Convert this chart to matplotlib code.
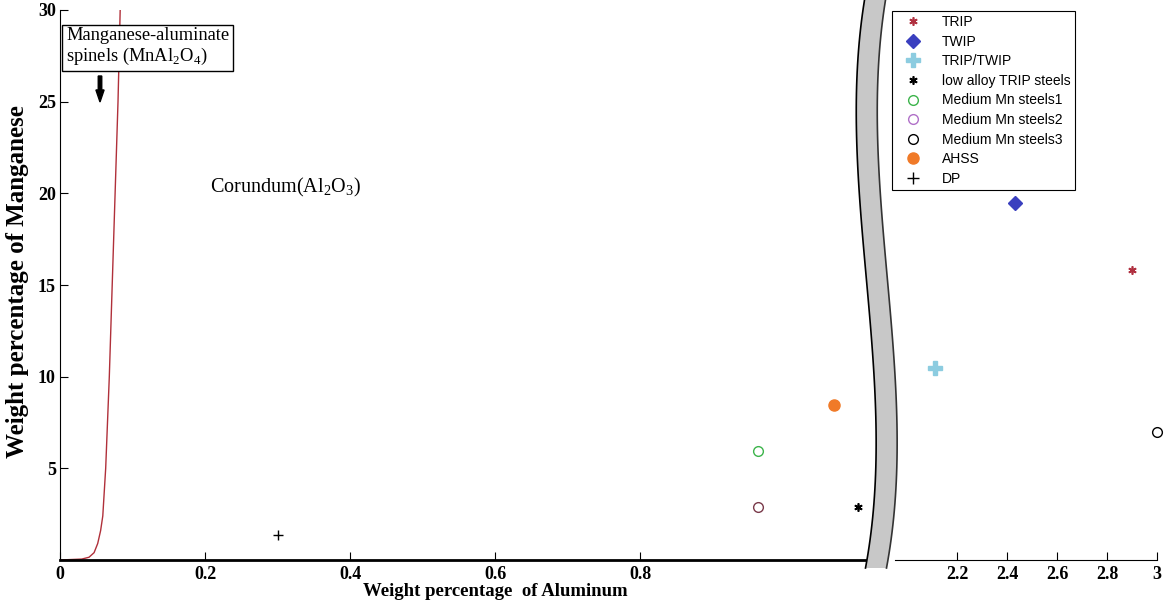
import numpy as np
import matplotlib
matplotlib.use("Agg")
import matplotlib.pyplot as plt
from matplotlib.lines import Line2D
from matplotlib.patches import Polygon, FancyArrow

plt.rcParams['font.family'] = ['Liberation Serif', 'DejaVu Serif']
plt.rcParams['mathtext.fontset'] = 'custom'
plt.rcParams['mathtext.rm'] = 'Liberation Serif'

# spinel / corundum boundary (wt% Al, wt% Mn)
boundary_al = [0.0, 0.03, 0.040, 0.047, 0.052, 0.056, 0.059, 0.063, 0.068, 0.072, 0.076, 0.080, 0.083]
boundary_mn = [0.0, 0.05, 0.15, 0.4, 0.9, 1.6, 2.4, 5.0, 10.0, 15.0, 20.0, 25.0, 30.0]

# steel grades (Al, Mn)
trip = ([2.9], [15.8])
twip = ([2.43], [19.5])
trip_twip = ([2.11], [10.5])
low_alloy_trip = ([1.10], [2.9])
med_mn1 = ([0.963], [5.95])
med_mn2 = ([0.963], [2.9])
med_mn3 = ([3.0], [7.0])
ahss = ([1.068], [8.45])
dp = ([0.30], [1.36])

W, H = 1167, 602
fig = plt.figure(figsize=(W / 100, H / 100), dpi=100)

def fx(px):
    return px / W

def fy(py):
    return 1 - py / H

ax1 = fig.add_axes([fx(60), fy(560), fx(875 - 60), fy(10) - fy(560)])
ax2 = fig.add_axes([fx(895), fy(560), fx(1157 - 895), fy(10) - fy(560)])

for ax in (ax1, ax2):
    ax.set_ylim(0, 30)
    ax.spines['top'].set_visible(False)
    ax.spines['right'].set_visible(False)
    ax.tick_params(direction='in', length=6, labelsize=13, pad=4)

ax1.set_xlim(0, 1.124)
ax1.set_xticks([0, 0.2, 0.4, 0.6, 0.8])
ax1.set_xticklabels(['0', '0.2', '0.4', '0.6', '0.8'], fontweight='bold')
ax1.set_yticks([5, 10, 15, 20, 25, 30])
ax1.set_yticklabels(['5', '10', '15', '20', '25', '30'], fontweight='bold')
ax1.tick_params(axis='y', pad=3)
ax1.spines['bottom'].set_linewidth(2)

ax2.set_xlim(1.95, 3.0)
ax2.set_xticks([2.2, 2.4, 2.6, 2.8, 3.0])
ax2.set_xticklabels(['2.2', '2.4', '2.6', '2.8', '3'], fontweight='bold')
ax2.spines['left'].set_visible(False)
ax2.set_yticks([])

ax1.plot(boundary_al, boundary_mn, color='#b0303a', lw=1)

ms = 7
ax1.plot(*low_alloy_trip, ls='none', marker=(6, 2, 0), color='black', ms=ms - 1, mew=1.2)
ax1.plot(*med_mn1, ls='none', marker='o', mfc='none', mec='#3cb44b', ms=ms, mew=1)
ax1.plot(*med_mn2, ls='none', marker='o', mfc='none', mec='#7a3a4a', ms=ms, mew=1)
ax1.plot(*ahss, ls='none', marker='o', color='#f07a28', ms=ms + 1)
ax1.plot(*dp, ls='none', marker='+', color='black', ms=ms, mew=1)

ax2.plot(*trip, ls='none', marker=(6, 2, 0), color='#b03040', ms=ms - 1, mew=1.2, clip_on=False)
ax2.plot(*twip, ls='none', marker='D', color='#3a3fbf', ms=ms, clip_on=False)
ax2.plot(*trip_twip, ls='none', marker='P', color='#8ccce0', ms=ms + 3, clip_on=False)
ax2.plot(*med_mn3, ls='none', marker='o', mfc='none', mec='black', ms=ms, mew=1, clip_on=False)

handles = [
    Line2D([], [], ls='none', marker=(6, 2, 0), color='#b03040', ms=6, mew=1.2, label='TRIP'),
    Line2D([], [], ls='none', marker='D', color='#3a3fbf', ms=7, label='TWIP'),
    Line2D([], [], ls='none', marker='P', color='#8ccce0', ms=10, label='TRIP/TWIP'),
    Line2D([], [], ls='none', marker=(6, 2, 0), color='black', ms=6, mew=1.2, label='low alloy TRIP steels'),
    Line2D([], [], ls='none', marker='o', mfc='none', mec='#3cb44b', ms=7, label='Medium Mn steels1'),
    Line2D([], [], ls='none', marker='o', mfc='none', mec='#b070c8', ms=7, label='Medium Mn steels2'),
    Line2D([], [], ls='none', marker='o', mfc='none', mec='black', ms=7, label='Medium Mn steels3'),
    Line2D([], [], ls='none', marker='o', color='#f07a28', ms=8, label='AHSS'),
    Line2D([], [], ls='none', marker='+', color='black', ms=8, mew=1, label='DP'),
]
leg = fig.legend(handles=handles, loc='upper left', bbox_to_anchor=(fx(892), fy(11)),
                 prop={'family': 'Liberation Sans', 'size': 10}, fancybox=False,
                 edgecolor='black', framealpha=1, borderpad=0.3, labelspacing=0.4,
                 handlelength=2.4, handletextpad=0.9, borderaxespad=0)
leg.get_frame().set_linewidth(0.8)

# axis break band
yy = np.linspace(0, 568, 80)
cy = [0, 133, 367, 568]
cx = [875, 867, 884, 876]
coef = np.polyfit(cy, cx, 3)
mid = np.polyval(coef, yy)
left = np.column_stack([fx(mid - 10.5), fy(yy)])
right = np.column_stack([fx(mid + 10.5), fy(yy)])
band = Polygon(np.vstack([left, right[::-1]]), closed=True, facecolor='#c8c8c8',
               edgecolor='none', transform=fig.transFigure, zorder=5)
fig.patches.append(band)
fig.lines.append(Line2D(left[:, 0], left[:, 1], color='black', lw=1.2, transform=fig.transFigure, zorder=6))
fig.lines.append(Line2D(right[:, 0], right[:, 1], color='#333333', lw=1.2, transform=fig.transFigure, zorder=6))

# annotations
fig.text(fx(66), fy(47), 'Manganese-aluminate\nspinels (MnAl$_2$O$_4$)', fontsize=13.3,
         va='center', ha='left', linespacing=1.12,
         bbox=dict(boxstyle='square,pad=0.22', facecolor='white', edgecolor='black', lw=1))
fig.patches.append(FancyArrow(
    fx(100), fy(76), 0, fy(102) - fy(76), width=0.003, head_width=0.007,
    head_length=0.02, length_includes_head=True, color='black', transform=fig.transFigure))
fig.text(fx(210), fy(187), 'Corundum(Al$_2$O$_3$)', fontsize=14.5, va='center', ha='left')

fig.text(fx(495), fy(592), 'Weight percentage  of Aluminum', fontsize=13.5, fontweight='bold',
         ha='center', va='center')
fig.text(fx(18), fy(282), 'Weight percentage of Manganese', fontsize=18, fontweight='bold',
         ha='center', va='center', rotation=90)

fig.savefig('out.png', dpi=100)
